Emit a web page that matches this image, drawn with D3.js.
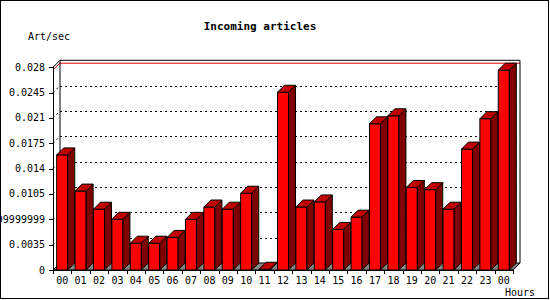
<!DOCTYPE html>
<html>
<head>
<meta charset="utf-8">
<script src="https://cdn.jsdelivr.net/npm/d3@7"></script>
<style>
  body { margin: 0; background: #fff; }
  text { font-family: "DejaVu Sans Mono", monospace; fill: #000; }
</style>
</head>
<body>
<svg id="chart" width="550" height="300"></svg>
<script>
// hours shown along the bottom (the last one wraps to 00 again)
const hours = ['00','01','02','03','04','05','06','07','08','09','10','11',
               '12','13','14','15','16','17','18','19','20','21','22','23','00'];
// articles per second for each hour
const artPerSec = [0.0159, 0.0109, 0.0084, 0.0070, 0.0037, 0.0037, 0.0045, 0.0070,
                   0.0087, 0.0084, 0.0106, 0.0001, 0.02455, 0.0087, 0.0094, 0.0056,
                   0.0073, 0.0202, 0.0213, 0.0114, 0.0111, 0.0084, 0.0167, 0.0209, 0.0276];
const yTickValues = [0, 0.0035, 0.007, 0.0105, 0.014, 0.0175, 0.021, 0.0245, 0.028];
const yTickLabels = ['0', '0.0035', '0.00699999999', '0.0105', '0.014', '0.0175', '0.021', '0.0245', '0.028'];

const svg = d3.select('#chart');
const depth = 7;
const plotLeft = 53, plotRight = 513, plotBottom = 270, plotTop = 67.3;

const x = d3.scaleBand()
    .domain(d3.range(hours.length))
    .range([plotLeft, plotRight])
    .paddingInner(0.4)
    .paddingOuter(0.2);

const y = d3.scaleLinear()
    .domain([0, 0.028])
    .range([plotBottom, plotTop]);

svg.append('rect')
    .attr('x', 0.5).attr('y', 0.5)
    .attr('width', 548).attr('height', 298)
    .attr('fill', '#fff')
    .attr('stroke', '#000');

svg.append('text')
    .attr('x', 260).attr('y', 30)
    .attr('text-anchor', 'middle')
    .style('font-size', '11px')
    .style('font-weight', 'bold')
    .text('Incoming articles');

svg.append('text')
    .attr('x', 28).attr('y', 40)
    .style('font-size', '10px')
    .text('Art/sec');

// back wall grid (dotted)
const grid = svg.append('g').attr('shape-rendering', 'crispEdges');
grid.selectAll('line.grid')
    .data(yTickValues.slice(1, -1))
    .join('line')
    .attr('class', 'grid')
    .attr('x1', plotLeft + depth).attr('x2', plotRight + depth)
    .attr('y1', d => Math.round(y(d) - depth) + 0.5)
    .attr('y2', d => Math.round(y(d) - depth) + 0.5)
    .attr('stroke', '#000')
    .attr('stroke-dasharray', '2,3');

svg.selectAll('line.gridside')
    .data(yTickValues.slice(1, -1))
    .join('line')
    .attr('class', 'gridside')
    .attr('x1', plotLeft).attr('x2', plotLeft + depth)
    .attr('y1', d => y(d)).attr('y2', d => y(d) - depth)
    .attr('stroke', '#000')
    .attr('stroke-dasharray', '2,3');

// max line
const maxVal = d3.max(artPerSec);
svg.append('path')
    .attr('d', `M${plotLeft},${y(maxVal)} L${plotLeft + depth},${y(maxVal) - depth} L${plotRight + depth},${y(maxVal) - depth}`)
    .attr('fill', 'none')
    .attr('stroke', '#e00000');

// walls
svg.append('path')
    .attr('d', `M${plotLeft},${plotTop} L${plotLeft + depth},${plotTop - depth} L${plotRight + depth},${plotTop - depth} L${plotRight + depth},${plotBottom - depth} L${plotRight},${plotBottom}`)
    .attr('fill', 'none')
    .attr('stroke', '#000');
svg.append('line')
    .attr('x1', plotLeft + depth).attr('x2', plotLeft + depth)
    .attr('y1', plotTop - depth).attr('y2', plotBottom - depth)
    .attr('stroke', '#000');

// floor
svg.append('path')
    .attr('d', `M${plotLeft},${plotBottom} L${plotLeft + depth},${plotBottom - depth} L${plotRight + depth},${plotBottom - depth} L${plotRight},${plotBottom} Z`)
    .attr('fill', '#888')
    .attr('stroke', '#000');

// bars
const bars = svg.selectAll('g.bar')
    .data(artPerSec)
    .join('g')
    .attr('class', 'bar')
    .attr('stroke', '#000')
    .attr('stroke-linejoin', 'round');

bars.append('rect')
    .attr('x', (d, i) => x(i))
    .attr('y', d => y(d))
    .attr('width', x.bandwidth())
    .attr('height', d => y(0) - y(d))
    .attr('fill', '#ff0000');

bars.append('path')
    .attr('d', (d, i) => {
        const x1 = x(i) + x.bandwidth();
        return `M${x1},${y(0)} L${x1},${y(d)} L${x1 + depth},${y(d) - depth} L${x1 + depth},${y(0) - depth} Z`;
    })
    .attr('fill', '#800000');

bars.append('path')
    .attr('d', (d, i) => {
        const x0 = x(i), x1 = x(i) + x.bandwidth();
        return `M${x0},${y(d)} L${x1},${y(d)} L${x1 + depth},${y(d) - depth} L${x0 + depth},${y(d) - depth} Z`;
    })
    .attr('fill', '#c00000');

// front axes
const axes = svg.append('g').attr('shape-rendering', 'crispEdges');
axes.append('line')
    .attr('x1', plotLeft + 0.5).attr('x2', plotLeft + 0.5)
    .attr('y1', plotTop).attr('y2', plotBottom)
    .attr('stroke', '#000');
axes.append('line')
    .attr('x1', plotLeft).attr('x2', plotRight)
    .attr('y1', plotBottom + 0.5).attr('y2', plotBottom + 0.5)
    .attr('stroke', '#000');

axes.selectAll('line.ytick')
    .data(yTickValues)
    .join('line')
    .attr('class', 'ytick')
    .attr('x1', plotLeft - 4).attr('x2', plotLeft)
    .attr('y1', d => Math.round(y(d)) + 0.5)
    .attr('y2', d => Math.round(y(d)) + 0.5)
    .attr('stroke', '#000');

svg.selectAll('text.ylab')
    .data(yTickValues)
    .join('text')
    .attr('class', 'ylab')
    .attr('x', 45)
    .attr('y', d => y(d) + 3.5)
    .attr('text-anchor', 'end')
    .style('font-size', '10px')
    .text((d, i) => yTickLabels[i]);

axes.selectAll('line.xtick')
    .data(d3.range(hours.length + 1))
    .join('line')
    .attr('class', 'xtick')
    .attr('x1', i => Math.round(plotLeft + i * x.step()) + 0.5)
    .attr('x2', i => Math.round(plotLeft + i * x.step()) + 0.5)
    .attr('y1', plotBottom).attr('y2', plotBottom + 4)
    .attr('stroke', '#000');

svg.selectAll('text.xlab')
    .data(hours)
    .join('text')
    .attr('class', 'xlab')
    .attr('x', (d, i) => x(i) + x.bandwidth() / 2)
    .attr('y', 284)
    .attr('text-anchor', 'middle')
    .style('font-size', '10px')
    .text(d => d);

svg.append('text')
    .attr('x', 505).attr('y', 296)
    .style('font-size', '10px')
    .text('Hours');
</script>
</body>
</html>
